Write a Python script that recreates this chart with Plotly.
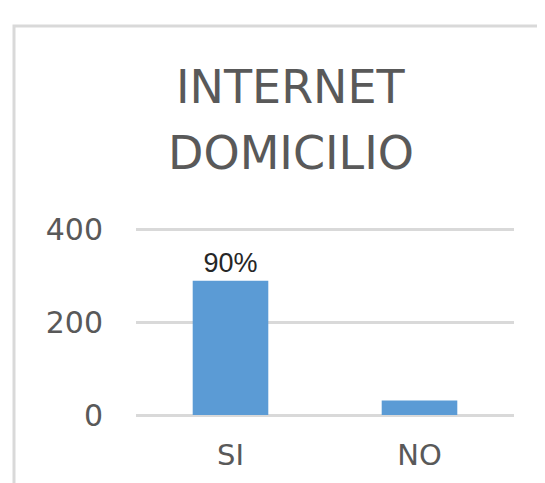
import plotly.graph_objects as go

categories = ["SI", "NO"]
values = [289, 31]
labels = ["90%", ""]
title_lines = ["INTERNET", "DOMICILIO"]
y_ticks = [0, 200, 400]

W, H = 545, 483
L, R, T, B = 128, 39, 219, 76
ph = H - T - B

def py(pix):
    return (H - B - pix) / ph

def px(pix):
    return (pix - L) / (W - L - R)

fig = go.Figure()
fig.add_trace(go.Bar(
    x=categories, y=values, width=0.4,
    marker=dict(color="#5b9bd5", line=dict(width=0)),
    text=labels, textposition="outside",
    textfont=dict(family="Liberation Sans", size=27, color="#262626"),
    cliponaxis=False,
))

fig.update_layout(
    width=W, height=H,
    margin=dict(l=L, r=R, t=T, b=B),
    paper_bgcolor="white", plot_bgcolor="white",
    showlegend=False,
    font=dict(family="DejaVu Sans", color="#595959"),
    xaxis=dict(showgrid=False, showline=False, zeroline=False, ticks="",
               tickfont=dict(size=29, color="#595959"), ticklabelstandoff=20),
    yaxis=dict(range=[0, 405], tickvals=y_ticks, showgrid=True, gridcolor="#d9d9d9",
               gridwidth=3, zeroline=True, zerolinecolor="#d9d9d9", zerolinewidth=3,
               showline=False, ticks="",
               tickfont=dict(size=30, color="#595959"), ticklabelstandoff=32),
    shapes=[dict(type="rect", xref="paper", yref="paper",
                 x0=px(6), x1=px(600), y0=py(18), y1=py(600),
                 line=dict(color="#d9d9d9", width=3), fillcolor="rgba(0,0,0,0)", layer="below")],
    bargap=0.6,
)

for t, ypix in zip(title_lines, [79, 145]):
    fig.add_annotation(text=t, xref="paper", yref="paper", x=px(283), y=py(ypix),
                       xanchor="center", yanchor="middle", showarrow=False,
                       font=dict(family="DejaVu Sans", size=46, color="#595959"))

fig.write_html("out.html")
